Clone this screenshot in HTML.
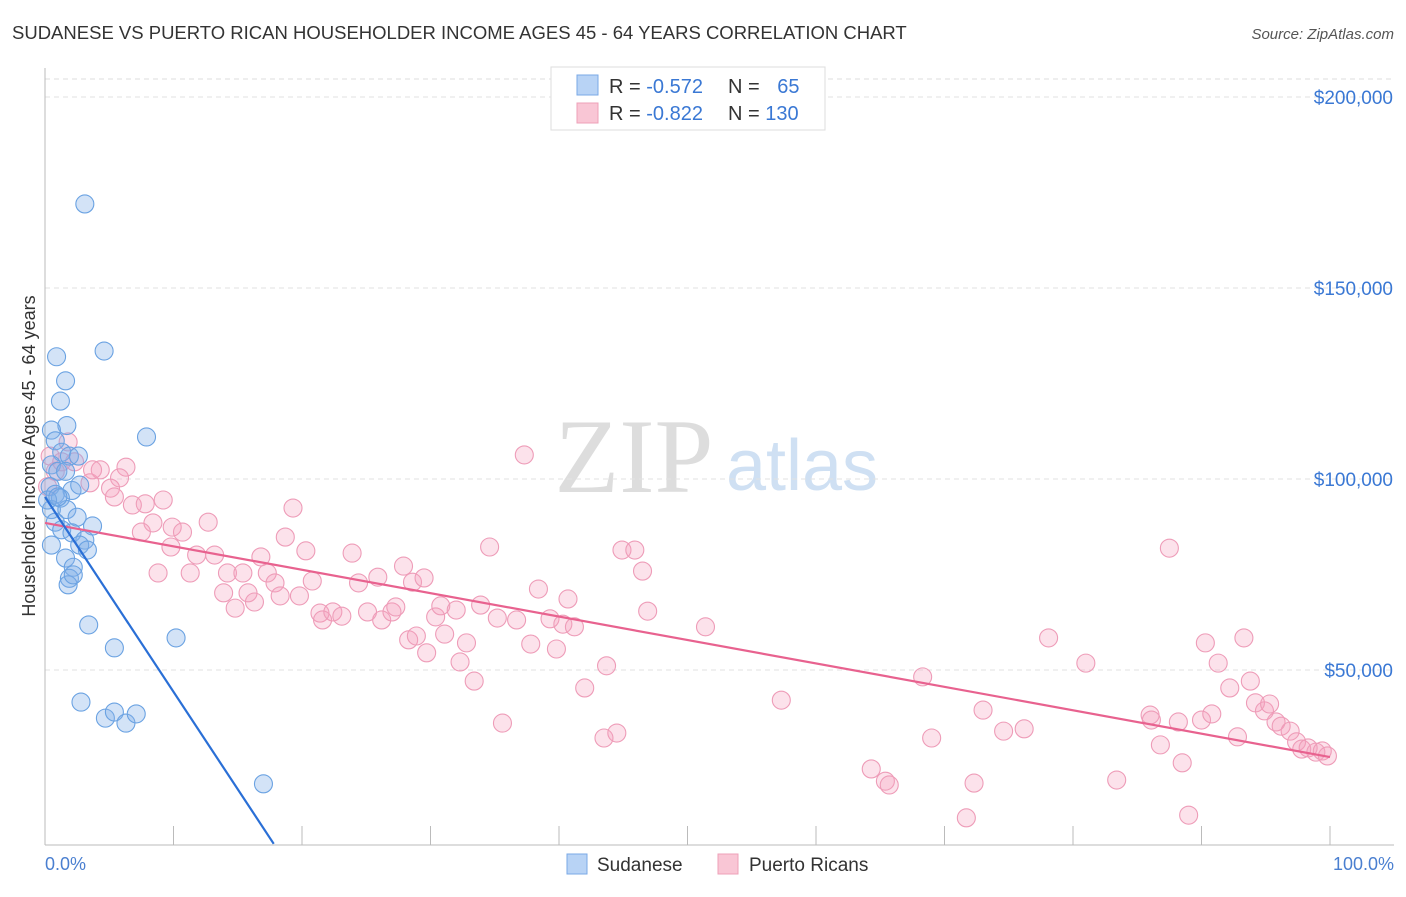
<!DOCTYPE html>
<html><head><meta charset="utf-8"><style>
body{margin:0;background:#fff;font-family:"Liberation Sans",sans-serif}
#wrap{position:relative;width:1406px;height:892px}
</style></head><body>
<div id="wrap">
<svg id="svg" width="1406" height="892" xmlns="http://www.w3.org/2000/svg">
<text x="12" y="39" font-size="18.5" fill="#333">SUDANESE VS PUERTO RICAN HOUSEHOLDER INCOME AGES 45 - 64 YEARS CORRELATION CHART</text>
<text x="1394" y="39" font-size="15" fill="#555" font-style="italic" text-anchor="end">Source: ZipAtlas.com</text>
<text x="634" y="492" font-size="106" fill="#ddd" font-family="Liberation Serif, serif" text-anchor="middle">ZIP</text>
<text x="802" y="490" font-size="72" fill="#cfe0f3" text-anchor="middle">atlas</text>
<g id="grid"></g>
<line x1="45" y1="68" x2="45" y2="845" stroke="#bbb"/>
<line x1="45" y1="845" x2="1394" y2="845" stroke="#bbb"/>
<g id="ticks"></g>
<text x="35" y="456" font-size="18" fill="#333" text-anchor="middle" transform="rotate(-90 35 456)">Householder Income Ages 45 - 64 years</text>
<text x="45" y="870" font-size="18" fill="#4a7fd0">0.0%</text>
<text x="1394" y="870" font-size="18" fill="#4a7fd0" text-anchor="end">100.0%</text>
<g id="pts"></g>
<g>
<rect x="551" y="67" width="274" height="63" fill="#fff" stroke="#ddd"/>
<rect x="577" y="75" width="21" height="20" fill="#b8d3f5" stroke="#7aa8e6"/>
<rect x="577" y="103" width="21" height="20" fill="#f9c6d5" stroke="#eea0b8"/>
<text x="609" y="93" font-size="20" fill="#333">R = <tspan fill="#3a78d4">-0.572</tspan></text>
<text x="728" y="93" font-size="20" fill="#333">N = <tspan fill="#3a78d4" dx="12">65</tspan></text>
<text x="609" y="120" font-size="20" fill="#333">R = <tspan fill="#3a78d4">-0.822</tspan></text>
<text x="728" y="120" font-size="20" fill="#333">N = <tspan fill="#3a78d4">130</tspan></text>
</g>
<g>
<rect x="567" y="854" width="20" height="20" fill="#b8d3f5" stroke="#7aa8e6"/>
<text x="597" y="871" font-size="19" fill="#333">Sudanese</text>
<rect x="718" y="854" width="20" height="20" fill="#f9c6d5" stroke="#eea0b8"/>
<text x="749" y="871" font-size="19" fill="#333">Puerto Ricans</text>
</g>
</svg></div>
<script>
const yTicks=[50,100,150,200];
const yTickLabels=["$50,000","$100,000","$150,000","$200,000"];
const xTicks=[0,10,20,30,40,50,60,70,80,90,100];
const sudX=[3.1,4.6,0.9,1.6,1.2,1.7,7.9,0.5,0.8,1.3,1.9,2.6,0.5,1,1.6,0.4,2.1,0.8,1.2,2.7,0.5,1.7,2.5,3.7,0.8,1.3,2.1,3.1,2.7,3.3,1.6,2.2,1.9,1.8,2.2,3.4,5.4,10.2,2.8,4.7,5.4,6.3,7.1,17,0.5,0.2,1];
const sudY=[172,133.5,132,125.7,120.4,114,111,112.8,110,107,106,106,103.7,102,102,98,97,96,95,98.4,92,92,90,87.7,88.7,86.7,85.9,84,82.7,81.4,79.3,76.9,74,72.3,74.9,61.8,55.8,58.4,41.6,37.4,39,36.1,38.5,20.2,82.7,94.5,95.3];
const prX=[1.8,2.3,3.5,4.3,6.3,5.8,3.7,5.1,5.4,6.8,7.8,9.2,8.4,7.5,9.9,10.7,9.8,8.8,11.3,11.8,12.7,13.2,13.9,14.2,15.4,15.8,14.8,16.3,16.8,17.3,17.9,18.3,18.7,19.3,19.8,20.3,20.8,21.4,21.6,22.4,23.1,23.9,24.4,25.1,25.9,26.2,27,27.3,27.9,28.3,28.6,28.9,29.5,29.7,30.4,30.8,31.1,32,32.3,32.8,33.4,33.9,34.6,35.2,35.6,36.7,37.3,37.8,38.4,39.3,39.8,40.3,40.7,41.2,42,43.5,43.7,44.5,44.9,45.9,46.5,46.9,51.4,57.3,64.3,65.4,65.7,68.3,69,71.7,72.3,73,74.6,76.2,78.1,81,83.4,86,86.1,86.8,87.5,88.2,88.5,89,90,90.3,90.8,91.3,92.2,92.8,93.3,93.8,94.2,94.9,95.3,95.8,96.2,96.9,97.4,97.8,98.3,98.9,99.4,99.8,0.8,1.3,0.2,0.4];
const prY=[109.7,104.5,99,102.4,103.1,100.3,102.4,97.6,95.3,93.2,93.5,94.5,88.5,86.1,87.4,86.1,82.2,75.4,75.4,80.1,88.7,80.1,70.2,75.4,75.4,70.2,66.2,67.8,79.6,75.4,72.8,69.4,84.8,92.4,69.4,81.2,73.3,64.9,63.1,65.2,64.1,80.6,72.8,65.2,74.3,63.1,65.2,66.5,77.2,57.9,73,58.9,74.1,54.5,63.9,66.8,59.4,65.7,52.1,57.1,47.1,67,82.2,63.6,36.1,63.1,106.3,56.8,71.2,63.4,55.5,62,68.6,61.3,45.3,32.2,51.1,33.5,81.4,81.4,75.9,65.4,61.3,42.1,24.1,20.9,19.9,48.2,32.2,11.3,20.4,39.5,34,34.6,58.4,51.8,21.2,38.2,36.9,30.4,81.9,36.4,25.7,12,36.9,57.1,38.5,51.8,45.3,32.5,58.4,47.1,41.4,39.3,41.1,36.4,35.3,34,31.2,29.3,29.6,28.5,28.8,27.5,102,104.5,98,106];
const sudLine=[[0,95.3],[17.8,4.5]];
const prLine=[[0,88.5],[100,27.2]];
const NS="http://www.w3.org/2000/svg";
const sx=p=>45+p*12.85;
const sy=v=>861-v*3.82;
function mk(parent,tag,attrs){const e=document.createElementNS(NS,tag);for(const k in attrs)e.setAttribute(k,attrs[k]);parent.appendChild(e);return e;}
const grid=document.getElementById('grid');
let gl=mk(grid,'line',{x1:45,x2:1394,y1:79,y2:79,stroke:'#ddd','stroke-dasharray':'5,4'});


yTicks.forEach((t,i)=>{
 const l=mk(grid,'line',{x1:45,x2:1394,y1:sy(t),y2:sy(t),stroke:'#e2e2e2','stroke-dasharray':'5,4'});
 
 
 const tx=mk(grid,'text',{x:1393,y:sy(t)+7,'font-size':19,fill:'#3a78d4','text-anchor':'end'});
 tx.textContent=yTickLabels[i];
 
 
});
const tk=document.getElementById('ticks');
xTicks.forEach(t=>{
 const l=mk(tk,'line',{x1:sx(t),x2:sx(t),y1:826,y2:845,stroke:'#bbb'});
 
 
});
const pts=document.getElementById('pts');
prX.forEach((x,i)=>{
 const c=mk(pts,'circle',{cx:sx(x),cy:sy(prY[i]),r:9,fill:'rgba(244,160,188,0.3)',stroke:'#ee9cb8','stroke-width':1.1});
 
 
});
sudX.forEach((x,i)=>{
 const c=mk(pts,'circle',{cx:sx(x),cy:sy(sudY[i]),r:9,fill:'rgba(130,175,232,0.35)',stroke:'#6aa2e2','stroke-width':1.1});
 
 
});
const l1=mk(pts,'line',{x1:sx(prLine[0][0]),y1:sy(prLine[0][1]),x2:sx(prLine[1][0]),y2:sy(prLine[1][1]),stroke:'#e8628f','stroke-width':2.2});


const l2=mk(pts,'line',{x1:sx(sudLine[0][0]),y1:sy(sudLine[0][1]),x2:sx(sudLine[1][0]),y2:sy(sudLine[1][1]),stroke:'#2a6fd6','stroke-width':2.2});


</script>
</body></html>
